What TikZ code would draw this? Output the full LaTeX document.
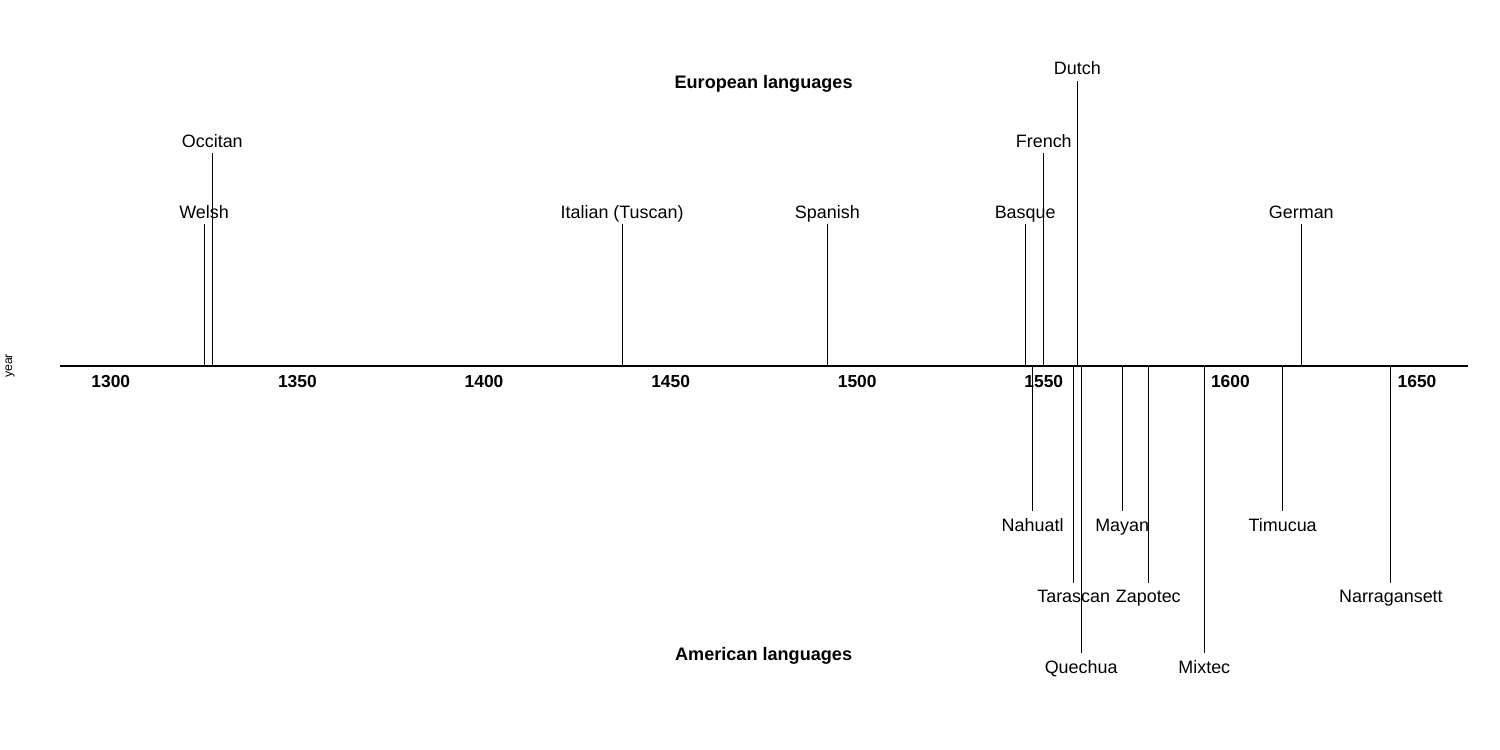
\documentclass[tikz,border=0pt]{standalone}
\usepackage{fontspec}
\setmainfont{Liberation Sans}
\begin{document}
\begin{tikzpicture}[x=0.02cm,y=-0.02cm,
  lbl/.style={font=\fontsize{10.2}{12}\selectfont, inner sep=0pt, anchor=base},
  ticklbl/.style={font=\bfseries\fontsize{9.9}{12}\selectfont, inner sep=0pt, anchor=base},
  ttl/.style={font=\bfseries\fontsize{10.3}{12}\selectfont, inner sep=0pt, anchor=base},
  stem/.style={line width=0.6pt},
  axisline/.style={line width=1.2pt}]
\useasboundingbox (0,0) rectangle (1500,750);
% axis
\coordinate (axL) at (60,366);
\coordinate (axR) at (1468,366);
\draw[axisline] (axL) -- (axR);
% tick labels
\foreach \yr in {1300,1350,...,1650}{
  \node[ticklbl] (t\yr) at ({110.8+3.732*(\yr-1300)},387.7) {\yr};
}
% titles
\node[ttl] (eur) at (763.6,88.3) {European languages};
\node[ttl] (ame) at (763.6,660) {American languages};
\node[font=\fontsize{7}{8}\selectfont, inner sep=0pt, rotate=90] (yr) at (10,366) {year};
% European (above)
\foreach \n/\yr/\e/\t in {welsh/1325/224/Welsh, occitan/1327.2/153/Occitan,
  italian/1437/224/{Italian (Tuscan)}, spanish/1492/224/Spanish,
  basque/1545/224/Basque, french/1550/153/French, dutch/1559/81/Dutch,
  german/1619/224/German}{
  \coordinate (\n-a) at ({110.8+3.732*(\yr-1300)},366);
  \coordinate (\n-e) at ({110.8+3.732*(\yr-1300)},\e);
  \node[lbl] (\n) at ({110.8+3.732*(\yr-1300)},\e-6) {\t};
}
% American (below)
\foreach \n/\yr/\e/\t in {nahuatl/1547/511/Nahuatl, tarascan/1558/582.7/Tarascan,
  quechua/1560/653.3/Quechua, mayan/1571/511/Mayan, zapotec/1578/582.7/Zapotec,
  mixtec/1593/653.3/Mixtec, timucua/1614/511/Timucua,
  narragansett/1643/582.7/Narragansett}{
  \coordinate (\n-a) at ({110.8+3.732*(\yr-1300)},366);
  \coordinate (\n-e) at ({110.8+3.732*(\yr-1300)},\e);
  \node[lbl] (\n) at ({110.8+3.732*(\yr-1300)},\e+20) {\t};
}
% stems
\foreach \n in {welsh,occitan,italian,spanish,basque,french,dutch,german,
  nahuatl,tarascan,quechua,mayan,zapotec,mixtec,timucua,narragansett}{
  \draw[stem] (\n-a) -- (\n-e);
}
\end{tikzpicture}
\end{document}
